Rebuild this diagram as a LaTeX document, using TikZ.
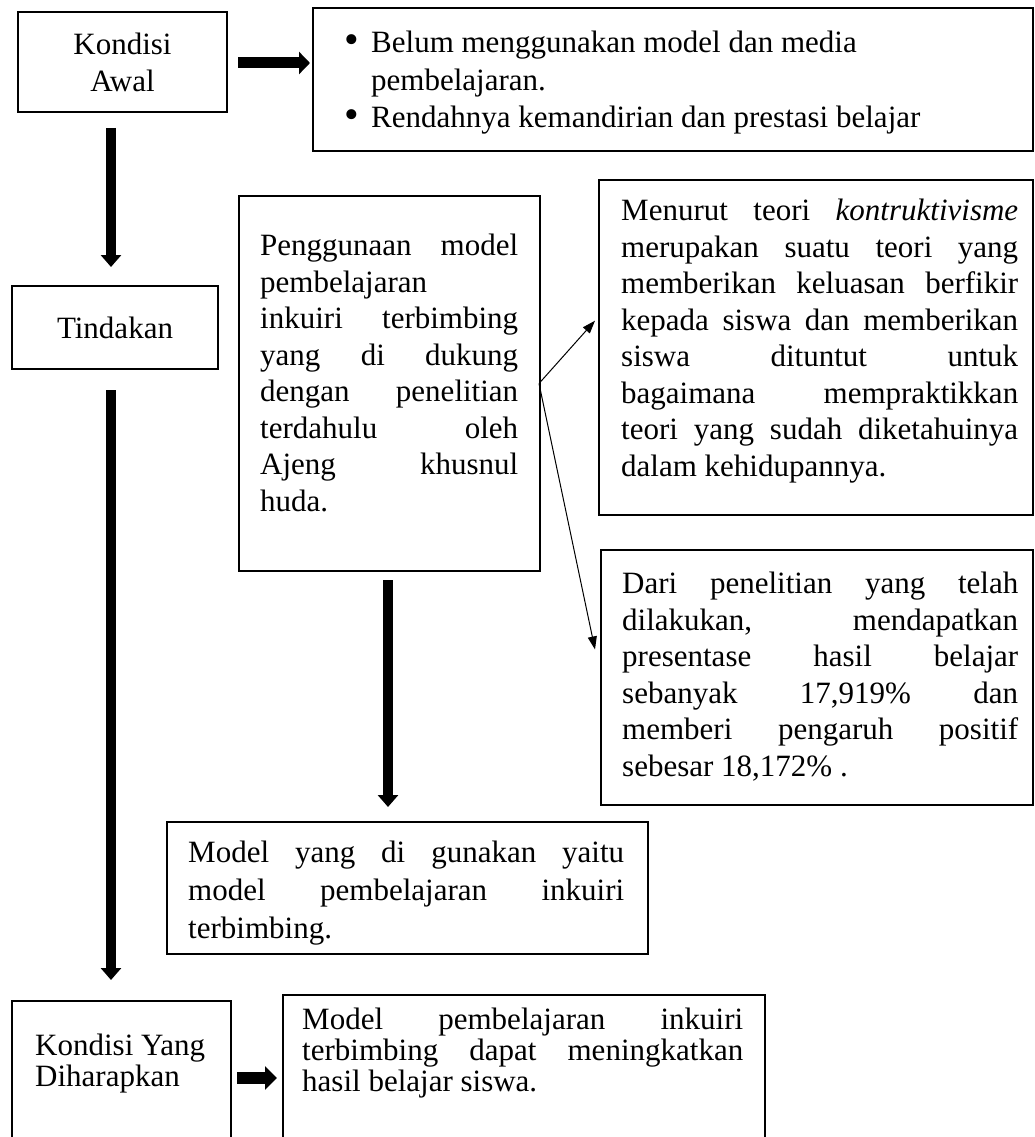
\documentclass[tikz,border=0pt]{standalone}
\usepackage{fontspec}
\setmainfont{Liberation Serif}
\usetikzlibrary{arrows.meta,calc}
\newcommand{\JL}[2]{\makebox[#1][s]{#2}}
\newcommand{\mybul}{\makebox[27pt][l]{\raisebox{-1pt}{\scalebox{1.35}{\textbullet}}}}
\hbadness=10000
\hfuzz=2pt
\begin{document}
\begin{tikzpicture}[x=1pt,y=-1pt,
  box/.style={draw, line width=2pt, inner sep=0pt, outer sep=0pt, anchor=north west},
  txt/.style={inner sep=0pt, anchor=north west, align=left, font=\fontsize{31}{36.5}\selectfont},
  txtb/.style={txt, font=\fontsize{31}{31}\selectfont},
  big/.style={line width=10pt, -{Triangle[length=12pt,width=20pt]}},
  bigh/.style={line width=11pt, -{Triangle[length=11pt,width=22pt]}},
  thin/.style={line width=1pt, -{Triangle[length=13pt,width=9pt]}}]
\useasboundingbox (0,0) rectangle (1035,1137);
\clip (0,0) rectangle (1035,1137);

% boxes
\node[box, minimum width=209pt, minimum height=100pt, align=center, font=\fontsize{31}{37}\selectfont] (ka) at (18,12) {Kondisi\\Awal};
\node[box, minimum width=720pt, minimum height=143pt] (top) at (313,8) {};
\node[txt, font=\fontsize{31}{37.5}\selectfont] (toptxt) at (344,31) {\mybul Belum menggunakan model dan media\\\hspace*{27pt}pembelajaran.\\\mybul Rendahnya kemandirian dan prestasi belajar};

\node[box, minimum width=206pt, minimum height=83pt, font=\fontsize{31}{37}\selectfont] (tin) at (12,286) {Tindakan};

\node[box, minimum width=301pt, minimum height=375pt] (peng) at (239,196) {};
\node[txt] (pengtxt) at (260,234) {\JL{258pt}{Penggunaan model}\\pembelajaran\\\JL{258pt}{inkuiri terbimbing}\\\JL{258pt}{yang di dukung}\\\JL{258pt}{dengan penelitian}\\\JL{258pt}{terdahulu oleh}\\\JL{258pt}{Ajeng khusnul}\\huda.};

\node[box, minimum width=434pt, minimum height=335pt] (men) at (599,180) {};
\node[txt] (mentxt) at (621,199) {\JL{397pt}{Menurut teori \textit{kontruktivisme}}\\\JL{397pt}{merupakan suatu teori yang}\\\JL{397pt}{memberikan keluasan berfikir}\\\JL{397pt}{kepada siswa dan memberikan}\\\JL{397pt}{siswa dituntut untuk}\\\JL{397pt}{bagaimana mempraktikkan}\\\JL{397pt}{teori yang sudah diketahuinya}\\dalam kehidupannya.};

\node[box, minimum width=432pt, minimum height=255pt] (dari) at (601,550) {};
\node[txt] (daritxt) at (622,572) {\JL{396pt}{Dari penelitian yang telah}\\\JL{396pt}{dilakukan, mendapatkan}\\\JL{396pt}{presentase hasil belajar}\\\JL{396pt}{sebanyak 17,919\% dan}\\\JL{396pt}{memberi pengaruh positif}\\sebesar 18,172\% .};

\node[box, minimum width=481pt, minimum height=132pt] (model) at (167,822) {};
\node[txt, font=\fontsize{31}{38}\selectfont] (modeltxt) at (188,841) {\JL{436pt}{Model yang di gunakan yaitu}\\\JL{436pt}{model pembelajaran inkuiri}\\terbimbing.};

\node[box, minimum width=219pt, minimum height=150pt] (ky) at (12,1001) {};
\node[txtb] (kytxt) at (35,1034) {Kondisi Yang\\Diharapkan};

\node[box, minimum width=482pt, minimum height=155pt] (res) at (283,995) {};
\node[txtb] (restxt) at (302,1008) {\JL{441pt}{Model pembelajaran inkuiri}\\\JL{441pt}{terbimbing dapat meningkatkan}\\hasil belajar siswa.};

% connectors
\draw[bigh] ([xshift=11pt,yshift=-1pt]ka.east) -- ([xshift=-3pt,yshift=-1pt]ka.east -| top.west);
\draw[big] ([xshift=-11.5pt,yshift=-16pt]ka.south) -- ([xshift=-4pt,yshift=19pt]tin.north);
\draw[big] ([xshift=-4pt,yshift=-21pt]tin.south) -- ([xshift=-10.5pt,yshift=21pt]ky.north);
\draw[big] ([xshift=-1.5pt,yshift=-9pt]peng.south) -- ([xshift=-19.5pt,yshift=15pt]model.north);
\draw[line width=12pt, -{Triangle[length=12pt,width=23pt]}] ([xshift=6pt,yshift=-2pt]ky.east) -- ([xshift=-6pt,yshift=-2pt]ky.east -| res.west);

\coordinate (m1) at ($(men.north west)!0.42!(men.south west)+(-4,0)$);
\coordinate (d1) at ($(dari.north west)!0.39!(dari.south west)+(-6,0)$);
\draw[thin] ([xshift=-1pt]peng.east) -- (m1);
\draw[thin] ([xshift=-1pt]peng.east) -- (d1);
\end{tikzpicture}
\end{document}
